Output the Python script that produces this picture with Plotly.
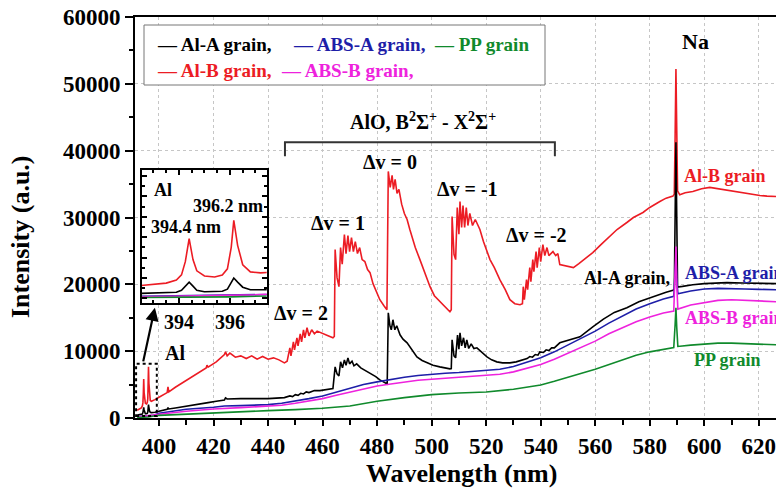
import plotly.graph_objects as go

# ---------------- data ----------------
red_x = [392.0, 392.5, 393.0, 393.5, 393.9, 394.1, 394.25, 394.4, 394.55, 394.7, 395.0, 395.4, 395.7, 395.9,
         396.05, 396.15, 396.3, 396.5, 396.8, 397.2, 397.6, 398.5, 400, 402, 403.0, 403.3, 403.6, 406, 410, 414,
         417.3, 417.6, 418, 421, 424.0, 424.4, 425, 426, 428, 430, 432, 434, 436, 438, 440, 442, 444, 446, 447,
         448.0, 448.4, 449.3, 449.7, 450.6, 451.0, 451.8, 452.3, 453.0, 453.5, 454.3, 455.0, 456, 457, 458, 460,
         462, 463.8, 464.3, 464.6, 465.3, 466.0, 466.6, 467.2, 468.0, 468.6, 469.3, 469.9, 470.6, 471.3, 472.0,
         472.8, 473.6, 474.5, 475.5, 476.5, 477.4, 478.5, 479.5, 481, 482.5, 483.6, 484.1, 484.8, 485.5, 486.0,
         486.6, 487.3, 488, 489, 490, 491, 492, 493, 494, 495.7, 497.5, 499.4, 501, 503, 505, 506.7, 507.2, 507.5,
         508.2, 508.8, 509.4, 510.0, 510.4, 511.0, 511.5, 512.1, 512.7, 513.3, 514, 515, 516, 517.7, 519, 520,
         521.4, 523, 525, 527, 528.7, 530.5, 532.4, 533.3, 533.6, 534.0, 534.8, 535.2, 536.0, 536.4, 537.1, 537.5,
         538.3, 538.7, 539.5, 540, 540.8, 541.5, 542.3, 543, 544.5, 545.5, 546.3, 547, 548.5, 550.7, 552, 554, 556,
         559.1, 562, 565.4, 568, 571.6, 574, 577.5, 580, 583.7, 586, 588.5, 589.0, 589.3, 589.6, 589.9, 590.2, 591,
         593, 595.8, 599, 602, 605, 608.3, 611, 614.2, 617, 620.4, 623, 626.3]
red_y = [1150, 1250, 1350, 1500, 1800, 2300, 3600, 5850, 3800, 2700, 2200, 2100, 2300, 2900,
         5000, 7650, 5200, 3300, 2600, 2500, 2550, 2750, 3100, 3500, 3800, 4650, 3900, 4600, 5600, 6600,
         7500, 7900, 7600, 8400, 9500, 9900, 9300, 9700, 9100, 9300, 8900, 9300, 8800, 9200, 8800, 9000, 8700, 8250, 8500,
         10500, 9300, 11400, 10200, 12000, 10800, 12600, 11400, 13200, 12000, 13500, 12300, 13200, 12600, 13000, 12600,
         12300, 12000, 12200, 25200, 21000, 19650, 25500, 23000, 27450, 24600, 27300, 24900, 27000, 24900, 26400,
         24600, 25500, 23700, 23400, 22200, 21750, 20100, 19200, 17700, 16800, 16200, 36900, 34500, 36300, 34200,
         35700, 33600, 34200, 32000, 30600, 29700, 28200, 26700, 25500, 23700, 21600, 19650, 18300, 17400, 16500, 15900, 16200, 30150,
         24500, 23700, 31500, 27500, 32400, 28500, 31800, 28500, 31500, 28800, 30600, 28800, 29700, 28200, 26400, 25200,
         23700, 22500, 20700, 19200, 17700, 17100, 16950, 17100, 19650, 17700, 20700, 19200, 22500, 20400, 23700, 21900,
         24900, 22500, 25500, 23400, 25950, 24300, 25500, 24300, 24900, 24300, 24600, 22950, 22800, 22650, 22500, 23100, 23700,
         24750, 25900, 27150, 28200, 29250, 30000, 30750, 31500, 32400, 32900, 33200, 33500, 42000, 52200, 43000, 34000, 33400,
         33700, 33900, 34300, 34500, 34300, 34050, 33900, 33750, 33500, 33300, 33200, 33150]

black_x = [392.0, 392.5, 393.0, 393.5, 393.9, 394.1, 394.25, 394.4, 394.55, 394.7, 395.0, 395.4, 395.7, 395.9,
           396.05, 396.15, 396.3, 396.5, 396.8, 397.2, 397.6, 398.5, 400, 403, 403.3, 403.6, 406, 410, 414, 418,
           421, 424, 424.4, 425, 430, 435, 440, 446, 448, 449, 450, 451, 452, 453, 454, 455, 457, 459, 461, 463.8,
           464.6, 465.3, 466.0, 466.6, 467.3, 468.0, 468.6, 469.3, 469.9, 470.8, 471.5, 472.5, 474, 476, 477.4,
           479.5, 481, 482.9, 483.7, 484.1, 484.7, 485.2, 485.8, 486.5, 487.2, 488.4, 489.5, 491, 492.8, 494.6,
           496.5, 498.3, 500.5, 503, 505, 506.7, 507.2, 507.5, 508.2, 508.8, 509.5, 510.0, 510.4, 511.0, 511.7,
           512.3, 512.9, 513.6, 514.5, 515.5, 516.6, 518.5, 520.3, 522, 523.9, 526, 528.7, 531, 533.5, 535, 536,
           537, 538, 539, 539.7, 541, 542, 543, 544, 545, 547, 550, 554.4, 559.1, 563, 567, 571.6, 576, 580, 583.7,
           586, 588.5, 589.0, 589.3, 589.6, 589.9, 590.2, 592, 595.8, 600, 604, 608.3, 614, 620, 626.3]
black_y = [450, 480, 500, 520, 600, 800, 1200, 1600, 1200, 800, 650, 640, 700, 900,
           1500, 2000, 1600, 1100, 850, 800, 800, 850, 1000, 1300, 1550, 1350, 1500, 1800, 2050, 2300,
           2500, 2700, 3000, 2850, 2900, 2850, 2900, 3050, 3300, 3200, 3500, 3400, 3700, 3600, 3900, 3800, 4100, 4100, 4200, 4400,
           7650, 6600, 6300, 8400, 7500, 8700, 7900, 9000, 8100, 8500, 7800, 8100, 7500, 7050, 6750,
           6200, 5700, 5250, 5100, 15750, 13800, 13200, 14700, 13200, 13800, 12450, 11800, 11250, 10200, 9150,
           8600, 8250, 7900, 7650, 7450, 7350, 7400, 11700, 9300, 9000, 12400, 10300, 12750, 10800, 12000,
           10500, 11700, 10400, 11100, 10400, 10500, 9800, 9150, 8700, 8400, 8250, 8250, 8400, 8700, 8900, 9200,
           9100, 9500, 9400, 9900, 9800, 10200, 10100, 10500, 10500, 11250, 11600, 12150, 13650, 14800, 15800, 16500, 17400, 18000, 18450,
           18800, 19100, 19300, 30000, 41250, 30000, 19600, 19700, 19950, 20100, 20200, 20250, 20200, 20150, 20100]

blue_x = [392, 394.4, 396.2, 398, 400, 403, 410, 420, 424, 430, 440, 445, 450, 455, 460, 465, 470, 475, 480, 485,
          490, 495, 500, 505, 510, 515, 520, 525, 530, 535, 540, 545, 550, 555, 560, 565, 570, 575, 580, 585,
          588.8, 589.3, 589.6, 589.9, 590.3, 595, 600, 605, 610, 615, 620, 626.3]
blue_y = [200, 300, 350, 400, 700, 900, 1300, 1600, 1800, 1850, 2000, 2200, 2500, 2900, 3300, 3900, 4500, 5000, 5400, 5800,
          6100, 6350, 6550, 6700, 6800, 6950, 7100, 7300, 7700, 8300, 9000, 9900, 10900, 11900, 13000, 14200, 15300, 16300, 17100, 17800,
          18200, 22000, 24000, 21000, 18600, 19000, 19300, 19400, 19400, 19300, 19250, 19200]

magenta_x = [392, 396, 400, 410, 420, 430, 440, 445, 450, 455, 460, 465, 470, 475, 480, 485, 490, 495, 500, 505,
             510, 515, 520, 525, 530, 535, 540, 545, 550, 555, 560, 565, 570, 575, 580, 585, 588.8, 589.3, 589.6,
             589.9, 590.3, 595, 600, 605, 610, 615, 620, 626.3]
magenta_y = [150, 300, 550, 1000, 1350, 1550, 1750, 1900, 2200, 2500, 2900, 3400, 3900, 4400, 4800, 5100, 5400, 5650, 5800, 5950,
             6050, 6200, 6350, 6550, 6900, 7400, 8000, 8800, 9700, 10600, 11500, 12600, 13500, 14400, 15100, 15700, 16000, 21000, 25650,
             20000, 16300, 16900, 17300, 17600, 17700, 17600, 17500, 17400]

green_x = [392, 396, 400, 410, 420, 430, 440, 450, 460, 470, 480, 490, 500, 510, 520, 530, 540, 545, 550, 555,
           560, 565, 570, 575, 580, 585, 588.8, 589.3, 589.6, 589.9, 590.3, 595, 600, 605, 610, 615, 620, 626.3]
green_y = [80, 150, 400, 600, 800, 950, 1100, 1250, 1450, 1800, 2500, 3050, 3500, 3750, 3900, 4300, 4950, 5500, 6050, 6700,
           7300, 8000, 8700, 9400, 9900, 10300, 10550, 14000, 16500, 13500, 10700, 10900, 11100, 11200, 11200, 11100, 11000, 10950]

series_names = ["Al-B grain", "Al-A grain", "ABS-A grain", "ABS-B grain", "PP grain"]

# ---------------- styling ----------------
RED = "#ec1c24"
BLACK = "#000000"
BLUE = "#1e1ea8"
MAGENTA = "#ee22dd"
GREEN = "#108a2c"
FONT = "Liberation Serif"

series = [
    (red_x, red_y, RED, series_names[0]),
    (black_x, black_y, BLACK, series_names[1]),
    (blue_x, blue_y, BLUE, series_names[2]),
    (magenta_x, magenta_y, MAGENTA, series_names[3]),
    (green_x, green_y, GREEN, series_names[4]),
]

fig = go.Figure()
for xs, ys, col, nm in series:
    fig.add_trace(go.Scatter(x=xs, y=ys, mode="lines", line=dict(color=col, width=1.6),
                             name=nm, showlegend=False, xaxis="x", yaxis="y"))
for xs, ys, col, nm in series:
    fig.add_trace(go.Scatter(x=xs, y=ys, mode="lines", line=dict(color=col, width=1.6),
                             name=nm, showlegend=False, xaxis="x2", yaxis="y2"))

W, H = 776, 496
L, R, T, B = 135, 0, 17, 78
pw, ph = W - L - R, H - T - B


def px_x(px):
    return (px - L) / pw


def px_y(py):
    return (H - B - py) / ph


tickfont = dict(family=FONT, size=23, color="black", weight="bold")
GRID = "#c6c6c6"

fig.update_layout(
    width=W, height=H,
    margin=dict(l=L, r=R, t=T, b=B),
    paper_bgcolor="white", plot_bgcolor="white",
    xaxis=dict(range=[391.2, 626.3], tick0=400, dtick=20, ticks="outside", ticklen=6, tickwidth=2,
               tickcolor="black", showline=True, linecolor="black", linewidth=2, mirror=True,
               tickfont=tickfont, zeroline=False, ticklabeloverflow="allow",
               showgrid=True, gridcolor=GRID, griddash="dot", gridwidth=1,
               minor=dict(dtick=10, tick0=400, ticks="outside", ticklen=5, tickwidth=2, tickcolor="black", showgrid=False)),
    yaxis=dict(range=[0, 60000], tick0=0, dtick=10000, tickformat="d", ticks="outside", ticklen=8, tickwidth=2,
               tickcolor="black", showline=True, linecolor="black", linewidth=2, mirror=False,
               tickfont=tickfont, zeroline=False,
               showgrid=True, gridcolor=GRID, griddash="dot", gridwidth=1,
               minor=dict(dtick=5000, ticks="outside", ticklen=4, tickwidth=2, tickcolor="black", showgrid=False)),
    xaxis2=dict(domain=[px_x(141.7), px_x(266.7)], anchor="y2", range=[392.54, 397.44], dtick=2,
                ticks="inside", ticklen=5, tickwidth=1.5, tickcolor="black", showline=True, linecolor="black",
                linewidth=2, mirror="ticks", showgrid=False, zeroline=False,
                tickfont=dict(family=FONT, size=20, color="black", weight="bold"),
                minor=dict(dtick=0.5, ticks="inside", ticklen=3, tickcolor="black")),
    yaxis2=dict(domain=[px_y(303), px_y(170)], anchor="x2", range=[-450, 12580], dtick=2000,
                ticks="inside", ticklen=5, tickwidth=1.5, tickcolor="black", showline=True, linecolor="black",
                linewidth=2, mirror="ticks", showgrid=False, zeroline=False, showticklabels=False,
                minor=dict(dtick=1000, ticks="inside", ticklen=3, tickcolor="black")),
)

shapes = []
# legend box
shapes.append(dict(type="rect", xref="paper", yref="paper", x0=px_x(144), x1=px_x(545), y0=px_y(85), y1=px_y(25),
                   fillcolor="white", line=dict(color="#777777", width=1), layer="above"))
# dashed box around Al lines
shapes.append(dict(type="rect", xref="x", yref="y", x0=391.6, x1=399.2, y0=300, y1=8100,
                   line=dict(color="black", width=2, dash="dot"), layer="above"))
# AlO bracket
shapes.append(dict(type="path", xref="x", yref="y",
                   path="M 446.2,39150 L 446.2,41250 L 545.2,41250 L 545.2,39150",
                   line=dict(color="#333333", width=2), layer="above"))
fig.update_layout(shapes=shapes)

ann = []


def txt(text, x, y, color="black", size=20, xanchor="center", xref="x", yref="y"):
    ann.append(dict(text="<b>" + text + "</b>", x=x, y=y, xref=xref, yref=yref, showarrow=False,
                    xanchor=xanchor, yanchor="middle", font=dict(family=FONT, size=size, color=color)))


# legend entries
txt("— Al-A grain,", px_x(155), px_y(45), BLACK, 19, "left", "paper", "paper")
txt("— ABS-A grain,", px_x(291), px_y(45), BLUE, 19, "left", "paper", "paper")
txt("— PP grain", px_x(432), px_y(45), GREEN, 19, "left", "paper", "paper")
txt("— Al-B grain,", px_x(155), px_y(70), RED, 19, "left", "paper", "paper")
txt("— ABS-B grain,", px_x(279), px_y(70), MAGENTA, 19, "left", "paper", "paper")

# band labels
txt("AlO, B<sup>2</sup>Σ<sup>+</sup> - X<sup>2</sup>Σ<sup>+</sup>", 497.0, 44400, size=20)
txt("Δv = 0", 484.7, 38250)
txt("Δv = 1", 465.6, 29250)
txt("Δv = -1", 513.3, 34200)
txt("Δv = -2", 538.6, 27450)
txt("Δv = 2", 452.1, 15750)
txt("Na", 596.6, 56400, size=22)
txt("Al", 401.5, 9750, xanchor="left", size=20)

# curve labels on the right
txt("Al-B grain", 607.6, 36150, RED, 18)
txt("Al-A grain,", 571.6, 21000, BLACK, 18)
txt("ABS-A grain", 592.2, 21750, BLUE, 18, "left")
txt("ABS-B grain", 592.2, 15000, MAGENTA, 18, "left")
txt("PP grain", 595.4, 8700, GREEN, 18, "left")

# inset labels
txt("Al", 392.94, 10630, size=18, xanchor="left", xref="x2", yref="y2")
txt("394.4 nm", 394.27, 7015, size=18, xref="x2", yref="y2")
txt("396.2 nm", 395.92, 9066, size=18, xref="x2", yref="y2")

# axis titles
txt("Wavelength (nm)", px_x(461), px_y(473), size=26, xref="paper", yref="paper")
ann.append(dict(text="<b>Intensity (a.u.)</b>", x=px_x(20), y=px_y(236), xref="paper", yref="paper",
                showarrow=False, textangle=-90, xanchor="center", yanchor="middle",
                font=dict(family=FONT, size=26, color="black")))

# arrow from dashed box to inset
ann.append(dict(text="", x=398.5, y=16500, ax=394.1, ay=8250, xref="x", yref="y", axref="x", ayref="y",
                showarrow=True, arrowhead=2, arrowsize=1.2, arrowwidth=2.2, arrowcolor="black"))

fig.update_layout(annotations=ann)
fig.write_html("out.html")
